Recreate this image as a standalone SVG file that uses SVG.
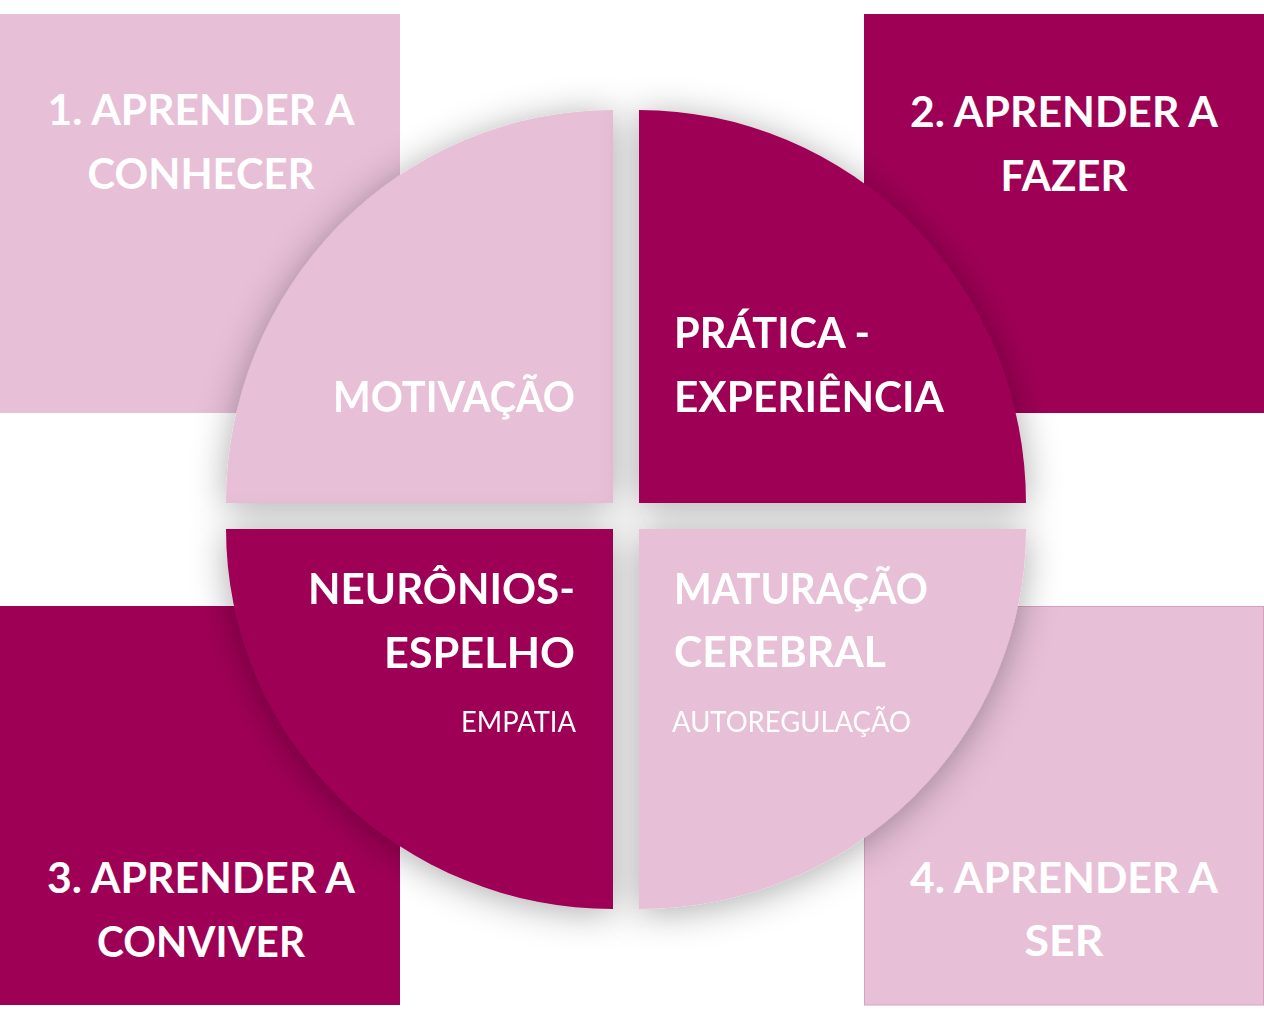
<svg xmlns="http://www.w3.org/2000/svg" width="1264" height="1020" viewBox="0 0 1264 1020">
<defs>
<filter id="sh" x="-25%" y="-25%" width="150%" height="150%">
<feDropShadow dx="0" dy="4" stdDeviation="18" flood-color="#000" flood-opacity="0.33"/>
</filter>
</defs>
<style>
.lt{fill:#E7BFD7}
.dk{fill:#9E0055}
.t{font-family:Lato,"Open Sans","Liberation Sans",sans-serif;font-weight:700;font-size:42px;fill:#fff}
.s{font-family:Lato,"Open Sans","Liberation Sans",sans-serif;font-weight:400;font-size:28px;fill:#fff}
</style>
<rect width="1264" height="1020" fill="#fff"/>
<g id="sq1"><rect class="lt" x="0" y="14" width="400" height="399"/>
<text class="t" x="201" y="125" text-anchor="middle" textLength="307" lengthAdjust="spacingAndGlyphs">1. APRENDER A</text>
<text class="t" x="201" y="189" text-anchor="middle" textLength="227" lengthAdjust="spacingAndGlyphs">CONHECER</text></g>
<g id="sq2"><rect class="dk" x="864" y="14" width="400" height="399"/>
<text class="t" x="1064" y="127" text-anchor="middle" textLength="308" lengthAdjust="spacingAndGlyphs">2. APRENDER A</text>
<text class="t" x="1064" y="191" text-anchor="middle" textLength="127" lengthAdjust="spacingAndGlyphs">FAZER</text></g>
<g id="sq3"><rect class="dk" x="0" y="606" width="400" height="399"/>
<text class="t" x="201" y="893" text-anchor="middle" textLength="308" lengthAdjust="spacingAndGlyphs">3. APRENDER A</text>
<text class="t" x="201" y="957" text-anchor="middle" textLength="208" lengthAdjust="spacingAndGlyphs">CONVIVER</text></g>
<g id="sq4"><rect class="lt" x="864.5" y="606.5" width="399" height="398.5" stroke="#D9A0C3" stroke-width="1"/>
<text class="t" x="1064" y="893" text-anchor="middle" textLength="308" lengthAdjust="spacingAndGlyphs">4. APRENDER A</text>
<text class="t" x="1064" y="956" text-anchor="middle" textLength="79" lengthAdjust="spacingAndGlyphs">SER</text></g>
<g id="q1" filter="url(#sh)"><path class="lt" d="M613,503 L226,503 A387,393 0 0 1 613,110 Z"/>
<text class="t" x="575" y="412" text-anchor="end" textLength="242" lengthAdjust="spacingAndGlyphs">MOTIVAÇÃO</text></g>
<g id="q2" filter="url(#sh)"><path class="dk" d="M639,503 L639,110 A387,393 0 0 1 1026,503 Z"/>
<text class="t" x="674" y="348" textLength="196" lengthAdjust="spacingAndGlyphs">PRÁTICA -</text>
<text class="t" x="674" y="412" textLength="270" lengthAdjust="spacingAndGlyphs">EXPERIÊNCIA</text></g>
<g id="q3" filter="url(#sh)"><path class="dk" d="M613,529 L613,909 A387,380 0 0 1 226,529 Z"/>
<text class="t" x="575" y="604" text-anchor="end" textLength="267" lengthAdjust="spacingAndGlyphs">NEURÔNIOS-</text>
<text class="t" x="575" y="668" text-anchor="end" textLength="191" lengthAdjust="spacingAndGlyphs">ESPELHO</text>
<text class="s" x="576" y="732" text-anchor="end" textLength="115" lengthAdjust="spacingAndGlyphs">EMPATIA</text></g>
<g id="q4" filter="url(#sh)"><path class="lt" d="M639,529 L1026,529 A387,380 0 0 1 639,909 Z"/>
<text class="t" x="674" y="604" textLength="254" lengthAdjust="spacingAndGlyphs">MATURAÇÃO</text>
<text class="t" x="674" y="667" textLength="212" lengthAdjust="spacingAndGlyphs">CEREBRAL</text>
<text class="s" x="672" y="732" textLength="239" lengthAdjust="spacingAndGlyphs">AUTOREGULAÇÃO</text></g>
<g id="connectors"/>
</svg>
